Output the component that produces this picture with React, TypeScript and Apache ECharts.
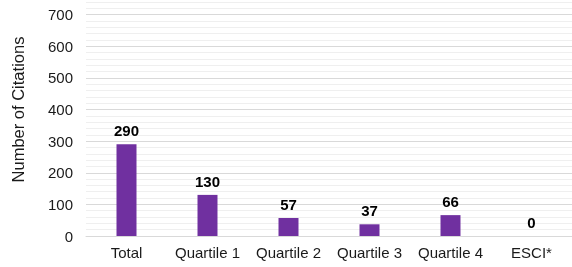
import React, { useEffect, useRef } from "react";
import * as echarts from "echarts";

const categories = ["Total", "Quartile 1", "Quartile 2", "Quartile 3", "Quartile 4", "ESCI*"];
const citations = [290, 130, 57, 37, 66, 0];
const yAxisName = "Number of Citations";

export default function App() {
  const ref = useRef<HTMLDivElement>(null);
  useEffect(() => {
    if (!ref.current) return;
    const chart = echarts.init(ref.current, null, { renderer: "svg" });
    chart.setOption({
      animation: false,
      grid: { left: 86, right: -3, top: 0, bottom: 31 },
      xAxis: {
        type: "category",
        data: categories,
        axisTick: { show: false },
        axisLine: { lineStyle: { color: "#d9d9d9", width: 1 } },
        axisLabel: {
          interval: 0,
          hideOverlap: false,
          color: "#1a1a1a",
          fontSize: 15,
          fontFamily: "Liberation Sans, Arial, sans-serif",
          margin: 9,
        },
      },
      yAxis: {
        type: "value",
        min: 0,
        max: 800,
        interval: 100,
        name: yAxisName,
        nameLocation: "middle",
        nameGap: 60,
        nameTextStyle: { color: "#1a1a1a", fontSize: 16.5, fontFamily: "Liberation Sans, Arial, sans-serif" },
        axisLabel: {
          color: "#1a1a1a",
          fontSize: 15,
          fontFamily: "Liberation Sans, Arial, sans-serif",
          margin: 13,
          formatter: (v: number) => (v >= 800 ? "" : String(v)),
        },
        axisLine: { show: false },
        axisTick: { show: false },
        splitLine: { show: true, lineStyle: { color: "#d9d9d9", width: 1 } },
        minorTick: { show: false, splitNumber: 5 },
        minorSplitLine: { show: true, lineStyle: { color: "#efefef", width: 1 } },
      },
      series: [
        {
          type: "bar",
          data: citations,
          barWidth: 20,
          itemStyle: { color: "#7030A0" },
          label: {
            show: true,
            position: "top",
            distance: 6,
            color: "#000",
            fontWeight: "bold",
            fontSize: 15,
            fontFamily: "Liberation Sans, Arial, sans-serif",
          },
        },
      ],
    });
    return () => chart.dispose();
  }, []);
  return <div ref={ref} style={{ position: "fixed", left: 0, top: -17, width: 572, height: 284 }} />;
}
